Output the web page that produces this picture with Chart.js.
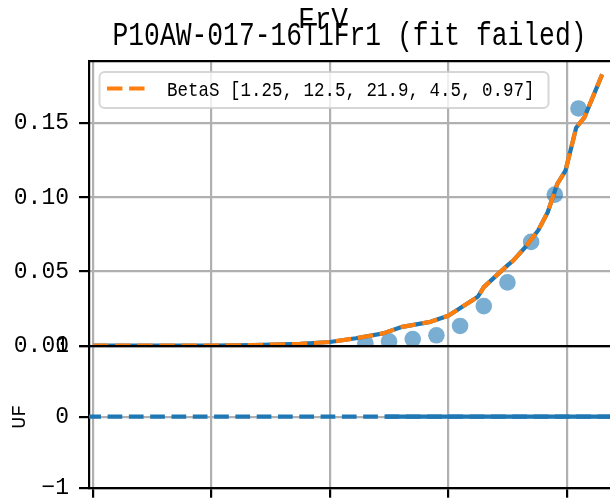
<!DOCTYPE html>
<html>
<head>
<meta charset="utf-8">
<script src="https://cdn.jsdelivr.net/npm/chart.js@4.4.1/dist/chart.umd.min.js"></script>
<style>
  html, body { margin: 0; padding: 0; background: #fff; }
  #wrap { position: relative; width: 610px; height: 502px; overflow: hidden; }
  #wrap canvas { position: absolute; left: 0; top: 0; }
</style>
</head>
<body>
<div id="wrap">
  <canvas id="frv" width="610" height="502"></canvas>
  <canvas id="uf" width="610" height="502"></canvas>
</div>
<script>
// fitted curve (BetaS) sampled along x
const curveX = [0, 1.0, 1.35, 1.75, 2.0, 2.22, 2.45, 2.6, 2.85, 3.0, 3.25, 3.3, 3.5, 3.55, 3.65, 3.76, 3.84, 3.92, 3.99, 4.08, 4.15, 4.3];
const curveY = [0, 0.0001, 0.0004, 0.0012, 0.0025, 0.005, 0.0083, 0.0125, 0.0161, 0.0202, 0.033, 0.0395, 0.0542, 0.0575, 0.0664, 0.0778, 0.090, 0.109, 0.118, 0.147, 0.154, 0.183];

// measured FrV points
const pointX = [2.3, 2.5, 2.7, 2.9, 3.1, 3.3, 3.5, 3.7, 3.9, 4.1];
const pointY = [0.0015, 0.003, 0.0045, 0.007, 0.0133, 0.0267, 0.0427, 0.070, 0.1019, 0.160];

// UF panel: zero line, plus the stretch covered by the fit
const ufX = [-0.04, 4.4];
const ufY = [0, 0];
const ufTailX = [2.47, 4.4];
const ufTailY = [0, 0];

const xTicks = [0, 1, 2, 3, 4];
const frvTicks = [0, 0.05, 0.10, 0.15];
const ufTicks = [-1, 0, 1];

const fitLabel = 'BetaS [1.25, 12.5, 21.9, 4.5, 0.97]';
const titleMain = 'P10AW-017-16T1Fr1 (fit failed)';
const titleTop = 'FrV';

const X_MIN = -0.034, X_MAX = 4.366;
const FRV_MAX = 0.192;

const MONO = '"Liberation Mono", "DejaVu Sans Mono", monospace';
const GRID = '#b0b0b0';
const BLUE = '#1f77b4';
const ORANGE = '#ff7f0e';

const pts = (xs, ys) => xs.map((x, i) => ({ x, y: ys[i] }));
const fixTicks = list => s => { s.ticks = list.map(v => ({ value: v })); };

// text drawn narrower than the font's natural width
function squeezedText(ctx, text, x, y, size, width, align) {
  ctx.save();
  ctx.font = size + 'px ' + MONO;
  const sx = width / ctx.measureText(text).width;
  ctx.translate(x, y);
  ctx.scale(sx, 1);
  ctx.textAlign = align;
  ctx.textBaseline = 'alphabetic';
  ctx.fillStyle = '#000';
  ctx.fillText(text, 0, 0);
  ctx.restore();
}

const headings = {
  id: 'headings',
  afterDraw(chart) {
    const a = chart.chartArea;
    squeezedText(chart.ctx, titleMain, (a.left + a.right) / 2, 45, 33, 474, 'center');
    squeezedText(chart.ctx, titleTop, 323, 28.3, 29, 50, 'center');
  }
};

const fitLegend = {
  id: 'fitLegend',
  afterDatasetsDraw(chart) {
    const ds = chart.data.datasets.find(d => d.label);
    const ctx = chart.ctx;
    const bx = chart.chartArea.left + 10.5, by = chart.chartArea.top + 11;
    ctx.save();
    ctx.beginPath();
    ctx.roundRect(bx, by, 449, 36, 5);
    ctx.fillStyle = 'rgba(255,255,255,0.8)';
    ctx.fill();
    ctx.lineWidth = 2;
    ctx.strokeStyle = 'rgba(204,204,204,0.8)';
    ctx.stroke();
    ctx.beginPath();
    ctx.setLineDash(ds.borderDash);
    ctx.lineWidth = ds.borderWidth;
    ctx.strokeStyle = ds.borderColor;
    ctx.moveTo(bx + 7.5, by + 16.5);
    ctx.lineTo(bx + 51.5, by + 16.5);
    ctx.stroke();
    ctx.restore();
    squeezedText(ctx, ds.label, bx + 67.5, by + 24.3, 21, 367.5, 'left');
  }
};

const tickFont = { family: MONO, size: 23 };
const gridOpts = { color: GRID, lineWidth: 2.2, tickColor: '#000', tickWidth: 2.2, tickLength: 10 };
const spine = { color: '#000', width: 2.2 };
const noHeight = s => { s.height = 0; s.paddingLeft = 0; s.paddingRight = 0; };
// fixed gutter for the y labels; no extra room for label overhang
const yWidth = s => { s.width = 89; s.paddingTop = 0; s.paddingBottom = 0; };

new Chart(document.getElementById('frv'), {
  type: 'scatter',
  data: {
    datasets: [
      { label: fitLabel, data: pts(curveX, curveY), showLine: true, borderColor: ORANGE, borderWidth: 4.2,
        borderDash: [15.4, 6.7], borderJoinStyle: 'round', pointRadius: 0, order: 0, clip: 0 },
      { data: pts(curveX, curveY), showLine: true, borderColor: BLUE, borderWidth: 4.2,
        borderJoinStyle: 'round', pointRadius: 0, order: 1, clip: 0 },
      { data: pts(pointX, pointY), backgroundColor: 'rgba(31,119,180,0.6)', borderWidth: 0,
        pointRadius: 8.3, pointHoverRadius: 8.3, order: 2, clip: 0 }
    ]
  },
  options: {
    responsive: false,
    animation: false,
    devicePixelRatio: 1,
    layout: { autoPadding: false, padding: { top: 61, right: 0, bottom: 502 - 345.7, left: 0 } },
    plugins: { legend: { display: false }, tooltip: { enabled: false } },
    scales: {
      x: {
        type: 'linear', min: X_MIN, max: X_MAX,
        afterBuildTicks: fixTicks(xTicks),
        ticks: { display: false },
        grid: { color: GRID, lineWidth: 2.2, drawTicks: false },
        border: { display: false },
        afterFit: noHeight
      },
      xt: {
        type: 'linear', position: 'top', min: X_MIN, max: X_MAX,
        ticks: { display: false },
        grid: { display: false, drawTicks: false },
        border: spine,
        afterFit: noHeight
      },
      y: {
        min: 0, max: FRV_MAX,
        afterBuildTicks: fixTicks(frvTicks),
        ticks: { callback: v => v.toFixed(2), font: tickFont, color: '#000', padding: 10 },
        grid: gridOpts,
        border: spine,
        afterFit: yWidth
      }
    }
  },
  plugins: [headings, fitLegend]
});

new Chart(document.getElementById('uf'), {
  type: 'scatter',
  data: {
    datasets: [
      { data: pts(ufX, ufY), showLine: true, borderColor: BLUE, borderWidth: 4.2,
        borderDash: [14.7, 6.6], borderDashOffset: 2, pointRadius: 0, clip: 0 },
      { data: pts(ufTailX, ufTailY), showLine: true, borderColor: BLUE, borderWidth: 4.2,
        pointRadius: 0, clip: 0 }
    ]
  },
  options: {
    responsive: false,
    animation: false,
    devicePixelRatio: 1,
    layout: { autoPadding: false, padding: { top: 345.7, right: 0, bottom: 502 - 487.7, left: 0 } },
    plugins: { legend: { display: false }, tooltip: { enabled: false } },
    scales: {
      x: {
        type: 'linear', min: X_MIN, max: X_MAX,
        afterBuildTicks: fixTicks(xTicks),
        ticks: { display: false },
        grid: gridOpts,
        border: spine,
        afterFit: noHeight
      },
      xt: {
        type: 'linear', position: 'top', min: X_MIN, max: X_MAX,
        ticks: { display: false },
        grid: { display: false, drawTicks: false },
        border: spine,
        afterFit: noHeight
      },
      y: {
        min: -1, max: 1,
        afterBuildTicks: fixTicks(ufTicks),
        ticks: { callback: v => (v < 0 ? '\u2212' + (-v) : String(v)), font: tickFont, color: '#000', padding: 10 },
        grid: gridOpts,
        border: spine,
        title: { display: true, text: 'UF', font: { family: MONO, size: 20 }, color: '#000', padding: { top: 7.5, bottom: 0 } },
        afterFit: yWidth
      }
    }
  }
});
</script>
</body>
</html>
